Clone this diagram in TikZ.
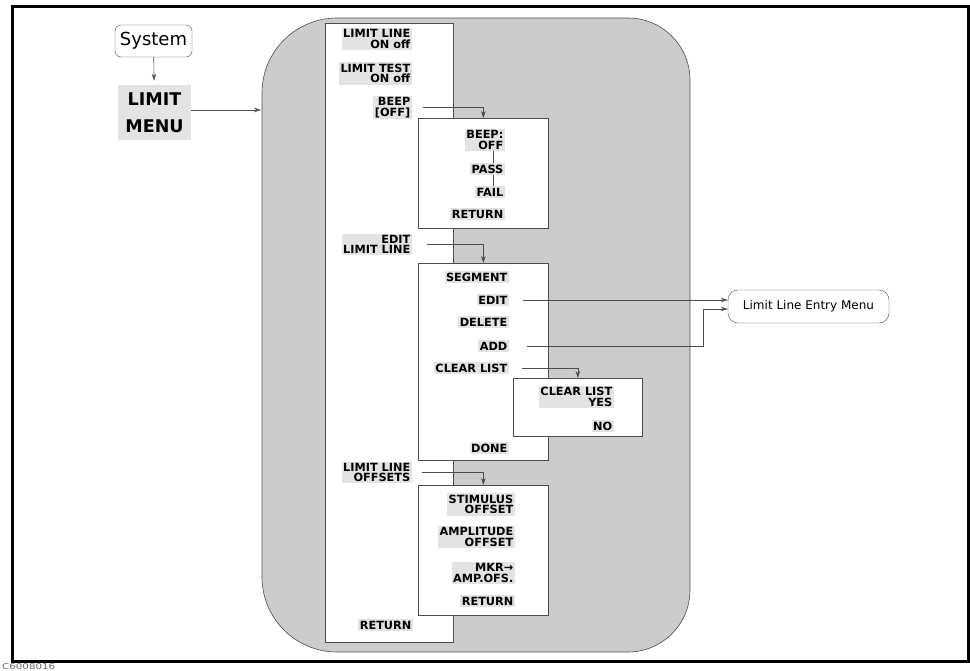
\documentclass[tikz,border=0pt]{standalone}
\usepackage{fontspec}
\setmainfont{DejaVu Sans}
\usepackage{xcolor}
\usetikzlibrary{arrows.meta,positioning,calc}
\definecolor{shade}{gray}{0.8}
\definecolor{keybg}{gray}{0.89}
\definecolor{edge}{gray}{0.3}

\begin{document}
\begin{tikzpicture}[x=1pt, y=-1pt,
  key/.style={fill=keybg, font=\bfseries\fontsize{11.3}{10.5}\selectfont,
              align=right, anchor=east, inner sep=1.5pt},
  panel/.style={rectangle, draw=edge, fill=white, line width=0.7pt,
                anchor=north west, inner sep=0pt},
  arr/.style={->, >={Stealth[length=7pt,width=4.5pt]}, draw=edge, line width=0.6pt},
  link/.style={draw=edge, line width=0.6pt}
]
\useasboundingbox (0,0) rectangle (970,670);
\draw[line width=3pt] (12,6.5) rectangle (968.5,661.5);
\node[anchor=south west, inner sep=0pt, text=black!60] (code) at (2,670)
  {\resizebox{53pt}{6pt}{C6008016}};

% left hand side
\node[draw=edge, fill=white, rounded corners=6, font=\fontsize{18}{20}\selectfont,
      minimum width=77, minimum height=32, inner sep=0pt] (sys) at (153.5,41) {System};
\node[fill=keybg, font=\bfseries\fontsize{17.5}{27}\selectfont, align=center,
      minimum width=73, minimum height=55, inner sep=0pt] (limmenu) at (154.5,112.5) {LIMIT\\MENU};
\draw[arr, shorten >=4pt] (sys) -- (limmenu);

% shaded menu area
\draw[draw=edge, fill=shade, line width=0.6pt] (476,18) [rounded corners=62] -- (690,18)
  -- (690,652) -- (476,652) [rounded corners=75] -- (262,652) -- (262,18) -- cycle;
\coordinate (shadein) at (261,110);
\draw[arr] (limmenu.east |- shadein) -- (shadein);

% main column
\node[panel, minimum width=128, minimum height=619] (menu) at (325,23) {};
\node[key] (limline) at (412,39)    {LIMIT LINE\\ON off};
\node[key] (limtest) at (412,73.5)  {LIMIT TEST\\ON off};
\node[key] (beep)    at (412,107.5) {BEEP\\{[OFF]}};
\node[key] (editll)  at (412,244.5) {EDIT\\LIMIT LINE};
\node[key] (offsets) at (412,472.5) {LIMIT LINE\\OFFSETS};
\node[key] (ret)     at (413,625)   {RETURN};

% beep menu
\node[panel, minimum width=130, minimum height=110] (beepmenu) at (418,118) {};
\node[key] (beepoff) at (505,140) {BEEP:\\OFF};
\node[key] (pass)    at (505,169) {PASS};
\node[key] (fail)    at (505,192) {FAIL};
\node[key] (beepret) at (505,214) {RETURN};
\coordinate (radio) at (493,0);
\draw[link] (beepoff.south -| radio) -- (pass.north -| radio);
\draw[link] (pass.south -| radio) -- (fail.north -| radio);

% edit limit line menu
\node[panel, minimum width=130, minimum height=197] (editmenu) at (418,263) {};
\node[key] (segment) at (509,277) {SEGMENT};
\node[key] (segedit) at (509,300) {EDIT};
\node[key] (segdel)  at (509,322) {DELETE};
\node[key] (segadd)  at (509,346) {ADD};
\node[key] (clrlist) at (509,368) {CLEAR LIST};
\node[key] (done)    at (509,448) {DONE};

% clear list menu
\node[panel, minimum width=129, minimum height=58] (clrmenu) at (513,378) {};
\node[key] (clryes) at (614,397) {CLEAR LIST\\YES};
\node[key] (clrno)  at (614,426) {NO};

% offsets menu
\node[panel, minimum width=130, minimum height=130] (offmenu) at (418,485) {};
\node[key] (stim)   at (515,504.5) {STIMULUS\\OFFSET};
\node[key] (ampl)   at (515,537)   {AMPLITUDE\\OFFSET};
\node[key] (mkr)    at (515,573)   {MKR→\\AMP.OFS.};
\node[key] (offret) at (515,601)   {RETURN};

% entry menu
\node[draw=edge, fill=white, rounded corners=10, font=\fontsize{12}{14}\selectfont,
      minimum width=161, minimum height=33, inner sep=0pt] (entry) at (808.5,306.5) {Limit Line Entry Menu};
\coordinate (addbend) at (703,309);

\draw[arr, shorten <=11pt] (beep.east) -| (beepmenu.north);
\draw[arr, shorten <=15pt] (editll.east) -| (editmenu.north);
\draw[arr, shorten <=13pt] (clrlist.east) -| (clrmenu.north);
\draw[arr, shorten <=10pt] (offsets.east) -| (offmenu.north);
\draw[arr, shorten <=14pt] (segedit.east) -- (segedit.east -| entry.west);
\draw[arr, shorten <=18pt] (segadd.east) -| (addbend) -- (addbend -| entry.west);
\end{tikzpicture}
\end{document}
